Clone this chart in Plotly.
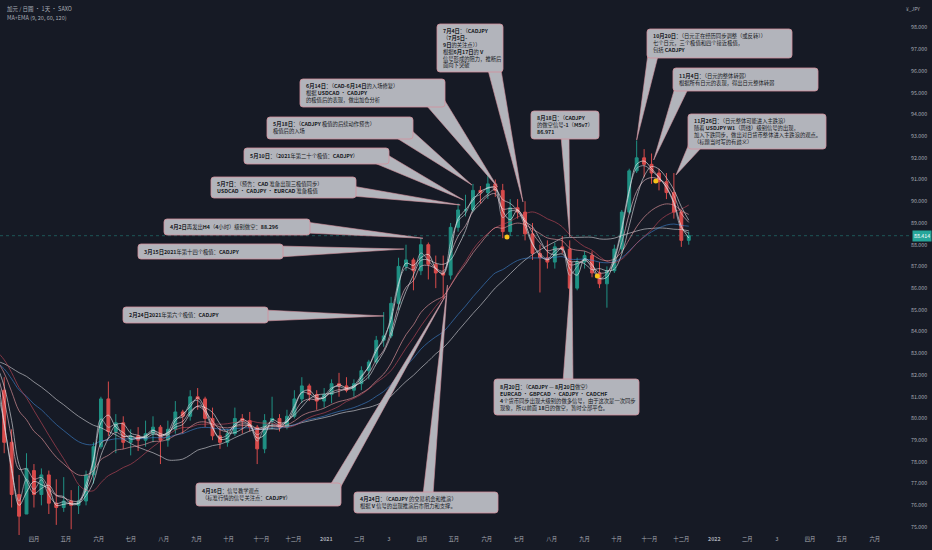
import pandas as pd
import plotly.graph_objects as go

# ---------------- data (weekly bars) ----------------
first_week = '2020-03-04'
opens = [81.3, 78.9, 76.5, 75.6, 77.6, 76.5, 77.4, 76.1, 75.9, 76.2,
         76.0, 76.2, 77.4, 78.7, 80.9, 79.4, 79.8, 78.9, 79.2, 79.0,
         79.3, 79.6, 79.0, 79.5, 80.3, 80.1, 81.0, 80.9, 80.0, 79.2,
         78.9, 79.3, 80.0, 79.9, 79.6, 78.6, 79.9, 80.0, 79.6, 80.1,
         80.9, 81.5, 81.1, 80.8, 81.1, 81.6, 81.5, 81.3, 81.6, 82.2,
         82.6, 83.6, 83.8, 85.3, 87.0, 87.3, 86.8, 88.0, 87.1, 86.7,
         86.6, 88.8, 89.6, 89.6, 90.5, 90.4, 90.8, 90.5, 88.6, 89.7,
         89.5, 88.5, 87.6, 87.4, 87.2, 87.9, 87.8, 86.0, 87.2, 87.5,
         86.7, 86.2, 86.8, 87.8, 89.5, 91.4, 92.0, 91.7, 91.3, 90.9,
         90.4, 89.5, 88.2]
highs = [81.9, 79.5, 77.4, 78.4, 77.9, 77.7, 77.6, 77.2, 77.3, 76.7,
         76.9, 77.6, 78.9, 81.0, 81.7, 80.2, 80.1, 79.5, 79.6, 79.9,
         80.1, 79.7, 79.9, 80.8, 80.4, 81.3, 81.4, 81.0, 80.5, 79.6,
         79.5, 80.5, 80.2, 80.3, 79.7, 80.2, 81.0, 80.2, 80.4, 81.3,
         81.9, 81.6, 81.3, 81.4, 81.8, 82.1, 81.9, 81.8, 82.4, 82.7,
         83.8, 84.9, 85.6, 87.4, 88.0, 87.4, 88.3, 88.1, 87.5, 87.5,
         89.0, 89.9, 90.3, 90.8, 90.7, 91.2, 91.0, 90.8, 90.1, 90.1,
         90.0, 89.0, 88.0, 88.2, 88.1, 88.4, 88.2, 87.4, 87.7, 87.7,
         87.2, 87.0, 88.0, 89.6, 91.5, 92.8, 92.4, 92.2, 91.5, 91.3,
         91.3, 89.6, 88.6]
lows = [78.4, 75.9, 74.2, 75.6, 75.9, 76.0, 75.6, 75.1, 75.7, 74.9,
        75.6, 76.0, 77.0, 78.6, 79.2, 78.4, 78.6, 78.3, 78.5, 78.7,
        78.9, 77.9, 78.7, 79.3, 79.3, 79.9, 80.4, 79.6, 79.0, 78.6,
        78.7, 79.2, 79.3, 79.4, 77.9, 78.4, 79.5, 79.4, 79.5, 80.0,
        80.7, 80.8, 80.4, 80.5, 80.7, 81.0, 81.2, 81.0, 81.3, 81.8,
        82.5, 83.3, 83.7, 85.0, 86.8, 85.9, 86.6, 86.4, 86.0, 85.5,
        86.4, 88.6, 89.3, 89.5, 89.9, 90.1, 90.2, 88.3, 88.4, 89.2,
        88.2, 87.3, 85.8, 86.9, 86.9, 87.6, 85.0, 85.9, 86.9, 86.5,
        86.0, 85.1, 86.7, 87.6, 89.4, 91.3, 91.1, 90.8, 90.5, 90.1,
        89.2, 87.9, 88.0]
closes = [78.9, 76.5, 75.5, 77.7, 76.5, 77.4, 76.1, 75.9, 76.2, 76.0,
          76.2, 77.4, 78.7, 80.9, 79.4, 79.8, 78.9, 79.2, 79.0, 79.3,
          79.6, 79.0, 79.5, 80.3, 80.1, 81.0, 80.9, 80.0, 79.2, 78.9,
          79.3, 80.0, 79.9, 79.6, 78.6, 79.9, 80.0, 79.6, 80.1, 80.9,
          81.5, 81.1, 80.8, 81.1, 81.6, 81.5, 81.3, 81.6, 82.2, 82.6,
          83.6, 83.8, 85.3, 87.0, 87.3, 86.8, 88.0, 87.1, 86.7, 86.6,
          88.8, 89.6, 89.6, 90.5, 90.4, 90.8, 90.5, 88.6, 89.7, 89.5,
          88.5, 87.6, 87.4, 87.2, 87.9, 87.8, 86.0, 87.2, 87.5, 86.7,
          86.2, 86.8, 87.8, 89.5, 91.4, 92.0, 91.7, 91.3, 90.9, 90.4,
          89.5, 88.2, 88.414]
# weekly closes before the visible window, only used to warm up the averages
history_start = '2019-09-11'
history_close = [81.5, 81.6, 81.2, 80.6, 81.8, 82.7, 83.0, 82.6, 83.0, 82.2,
                 82.6, 82.4, 82.6, 83.3, 83.6, 83.7, 83.4, 83.5, 84.2, 83.0,
                 82.5, 82.6, 82.8, 83.6, 80.6]
last_price = 88.414
signal_dates = ['2021-06-20', '2021-09-13', '2021-11-07']
signal_prices = [88.36, 86.56, 90.93]

price_ticks = list(range(75, 99))
tick_months = pd.date_range('2020-03-01', '2022-06-01', freq='MS')
tick_text = ['3', '四月', '五月', '六月', '七月', '八月', '九月', '十月', '十一月', '十二月',
             '<b>2021</b>', '二月', '3', '四月', '五月', '六月', '七月', '八月', '九月', '十月',
             '十一月', '十二月', '<b>2022</b>', '二月', '3', '四月', '五月', '六月']

# ---------------- geometry helpers ----------------
W, H = 932, 550
ML, MR, MT, MB = 0, 22, 0, 15
PW, PH = W - ML - MR, H - MT - MB
DAY0 = pd.Timestamp('2020-03-01')
PXDAY = 1.063


def px2date(px):
    return DAY0 + pd.Timedelta(days=(px - 1) / PXDAY)


def py2price(py):
    return 98 - (py - 27.5) / 21.72


def XP(px):
    return px / PW


def YP(py):
    return 1 - py / PH


def rrect(l, t, r, b, rad=3):
    return (f"M{XP(l+rad)},{YP(t)} L{XP(r-rad)},{YP(t)} Q{XP(r)},{YP(t)} {XP(r)},{YP(t+rad)} "
            f"L{XP(r)},{YP(b-rad)} Q{XP(r)},{YP(b)} {XP(r-rad)},{YP(b)} L{XP(l+rad)},{YP(b)} "
            f"Q{XP(l)},{YP(b)} {XP(l)},{YP(b-rad)} L{XP(l)},{YP(t+rad)} Q{XP(l)},{YP(t)} {XP(l+rad)},{YP(t)} Z")


FONT = 'Noto Sans CJK SC'
BG = '#161a25'
UP, DOWN = '#1f9184', '#d84b4b'
BOX, EDGE = '#b2b4bb', '#d3909c'
AXC = '#a9acb5'

dates = pd.date_range(first_week, periods=len(closes), freq='7D')
hist_dates = pd.date_range(history_start, periods=len(history_close), freq='7D')
full = pd.Series(history_close + closes, index=hist_dates.append(dates))

fig = go.Figure()
fig.add_trace(go.Candlestick(
    x=dates, open=opens, high=highs, low=lows, close=closes,
    increasing=dict(line=dict(color=UP, width=1), fillcolor=UP),
    decreasing=dict(line=dict(color=DOWN, width=1), fillcolor=DOWN),
    whiskerwidth=0, showlegend=False, hoverinfo='skip'))

# MA+EMA (9, 20, 60, 120) on daily bars -> 2, 4, 12, 24 weekly bars
ma_specs = [
    ('SMA', 24, '#d9d9de'), ('EMA', 24, '#3f86d4'),
    ('SMA', 12, '#c94a5c'), ('EMA', 12, '#f2a0a6'),
    ('SMA', 4, '#e8e8ec'), ('EMA', 4, '#f6c9d3'),
    ('SMA', 2, '#ffffff'), ('EMA', 2, '#cfd2da'),
]
for kind, n, col in ma_specs:
    s = full.rolling(n).mean() if kind == 'SMA' else full.ewm(span=n, adjust=False).mean()
    fig.add_trace(go.Scatter(x=s.index, y=s.values, mode='lines',
                             line=dict(color=col, width=0.8, shape='spline', smoothing=1.0),
                             opacity=0.75, hoverinfo='skip', showlegend=False))

notes = [
    dict(text='<b>2月24日2021</b>年第六个极值：<b>CADJPY</b>',
         box=(123, 307, 268, 323), tip=('2021-02-24', 84.72), base=((264, 310), (264, 321))),
    dict(text='<b>3月15日2021</b>年第十四个极值：<b>CADJPY</b>',
         box=(138, 244, 283, 259), tip=('2021-03-15', 87.80), base=((279, 246), (279, 257))),
    dict(text='<b>4月2日</b>再发出<b>H4</b>（<b>4</b>小时）级别做空：<b>88.296</b>',
         box=(164, 219, 310, 235), tip=('2021-04-02', 88.296), base=((306, 222), (306, 233))),
    dict(text='<b>5月7日</b>：（预告：<b>CAD</b> 准备出现三极值同步）<br><b>USDCAD</b> · <b>CADJPY</b> · <b>EURCAD</b> 准备极值',
         box=(211, 177, 356, 198), tip=('2021-05-07', 89.83), base=((352, 186), (352, 196))),
    dict(text='<b>5月10日</b>：（<b>2021</b>年第二十个极值：<b>CADJPY</b>）',
         box=(244, 148, 389, 164), tip=('2021-05-10', 90.06), base=((386, 154), (372, 162))),
    dict(text='<b>5月18日</b>：（<b>CADJPY</b> 极值的后续动作预告）<br>极值后的入场',
         box=(267, 117, 413, 139), tip=('2021-05-18', 90.75), base=((410, 129), (395, 137))),
    dict(text='<b>6月14日</b>：（<b>CAD-6月14日</b>的入场修复）<br>根据 <b>USDCAD</b> · <b>CADJPY</b><br>的极值后的表现，做出加仓分析',
         box=(300, 79, 445, 107), tip=('2021-06-11', 90.66), base=((442, 96), (426, 105))),
    dict(text='<b>7月4日</b>：（<b>CADJPY</b><br>（<b>7月5日-</b><br><b>9日</b>的关注点））<br>根据<b>6月17日</b>的 <b>V</b><br>信号形成的阻力，推断后<br>面向下突破',
         box=(437, 24, 503, 72), tip=('2021-07-05', 89.97), base=((500, 64), (488, 70))),
    dict(text='<b>8月18日</b>：（<b>CADJPY</b><br>的做空信号<b>-1</b>（<b>M5v7</b>）<br><b>86.971</b>',
         box=(531, 111, 599, 139), tip=('2021-08-18', 88.36), base=((561, 136), (569, 136))),
    dict(text='<b>8月20日</b>：（<b>CADJPY</b> — <b>8月20日</b>做空）<br><b>EURCAD</b> · <b>GBPCAD</b> · <b>CADJPY</b> · <b>CADCHF</b><br><b>4</b>个货币同步出现大级别的做多信号，由于这次是一次同步<br>现象，所以前面 <b>18</b>日的做空，暂时全部平仓。',
         box=(494, 379, 639, 415), tip=('2021-08-20', 87.20), base=((563, 382), (573, 382))),
    dict(text='<b>10月20日</b>：（日元正在经历同步调整（或反转））<br>七个日元，三个极值和四个接近极值，<br>包括 <b>CADJPY</b>',
         box=(647, 29, 792, 58), tip=('2021-10-20', 92.82), base=((649, 46), (658, 56))),
    dict(text='<b>11月4日</b>：（日元的整体转弱）<br>根据所有日元的表现，得出日元整体转弱',
         box=(673, 68, 818, 91), tip=('2021-11-05', 91.90), base=((676, 84), (688, 89))),
    dict(text='<b>11月26日</b>：（日元整体可能进入主跌浪）<br>随着 <b>USDJPY W1</b>（周线）级别信号的出现，<br>加入下跌同步，做出对日货币整体进入主跌浪的观点。<br>（标题当时写的有歧义）',
         box=(688, 114, 826, 149), tip=('2021-11-26', 91.21), base=((691, 139), (702, 147))),
    dict(text='<b>4月16日</b>：信号教学观点<br>（标准行情的信号关注点：<b>CADJPY</b>）',
         box=(196, 483, 341, 506), tip=('2021-04-23', 85.64), base=((329, 487), (339, 490))),
    dict(text='<b>4月24日</b>：（<b>CADJPY</b> 的交易机会和推演）<br>根据 <b>V</b> 信号的出现推演后市阻力和支撑。',
         box=(354, 492, 498, 513), tip=('2021-04-25', 86.14), base=((423, 495), (433, 495))),
]

shapes = [dict(type='line', xref='paper', x0=0, x1=1, yref='y', y0=last_price, y1=last_price,
               line=dict(color='rgba(38,166,154,0.55)', width=0.8, dash='dot'), layer='below')]
annotations = []
for nt in notes:
    l, t, r, b = nt['box']
    (bx1, by1), (bx2, by2) = nt['base']
    td, tp = pd.Timestamp(nt['tip'][0]), nt['tip'][1]
    fig.add_trace(go.Scatter(
        x=[td, px2date(bx1), px2date(bx2), td], y=[tp, py2price(by1), py2price(by2), tp],
        mode='lines', fill='toself', fillcolor=BOX, line=dict(color=EDGE, width=0.6),
        hoverinfo='skip', showlegend=False))
    shapes.append(dict(type='path', xref='paper', yref='paper', path=rrect(l, t, r, b, 3),
                       fillcolor=BOX, line=dict(color=EDGE, width=0.8), layer='above'))
    annotations.append(dict(xref='paper', yref='paper', x=XP(l + 4), y=YP((t + b) / 2),
                            xanchor='left', yanchor='middle', align='left', showarrow=False,
                            text=nt['text'], font=dict(family=FONT, size=5.3, color='#161922')))

fig.add_trace(go.Scatter(x=pd.to_datetime(signal_dates), y=signal_prices, mode='markers',
                         marker=dict(color='#f7c21a', size=5), hoverinfo='skip', showlegend=False))

annotations += [
    dict(xref='paper', yref='paper', x=XP(5), y=YP(3), xanchor='left', yanchor='top',
         showarrow=False, align='left', text='加元 / 日圓 · 1天 · SAXO',
         font=dict(family=FONT, size=5.5, color=AXC)),
    dict(xref='paper', yref='paper', x=XP(5), y=YP(12), xanchor='left', yanchor='top',
         showarrow=False, align='left', text='MA+EMA (9, 20, 60, 120)',
         font=dict(family=FONT, size=5.5, color=AXC)),
    dict(xref='paper', yref='paper', x=1, xshift=-6, y=YP(3), xanchor='left', yanchor='top',
         showarrow=False, text='¥_JPY', font=dict(family=FONT, size=5, color=AXC)),
    dict(xref='paper', x=1, xshift=2, yref='y', y=last_price, xanchor='left', yanchor='middle',
         showarrow=False, text=f'{last_price:.3f}', bgcolor='#26a69a', borderpad=1,
         font=dict(family=FONT, size=5.3, color='#ffffff')),
]

fig.update_layout(
    width=W, height=H, margin=dict(l=ML, r=MR, t=MT, b=MB, autoexpand=False),
    paper_bgcolor=BG, plot_bgcolor=BG, showlegend=False, hovermode=False,
    boxgap=0.45,
    shapes=shapes, annotations=annotations,
    xaxis=dict(type='date', range=[px2date(0), px2date(PW)], rangeslider=dict(visible=False),
               tickvals=tick_months, ticktext=tick_text, showgrid=False, zeroline=False,
               showline=False, ticks='', tickfont=dict(family=FONT, size=5.3, color=AXC)),
    yaxis=dict(side='right', range=[py2price(PH), py2price(0)], tickvals=price_ticks,
               tickformat='.3f', showgrid=False, zeroline=False, showline=False, ticks='',
               tickfont=dict(family=FONT, size=5.3, color=AXC)),
)

fig.write_html('out.html', config={'displayModeBar': False},
               post_script="document.body.style.margin='0';document.body.style.padding='0';"
                           "document.body.style.overflow='hidden';")
